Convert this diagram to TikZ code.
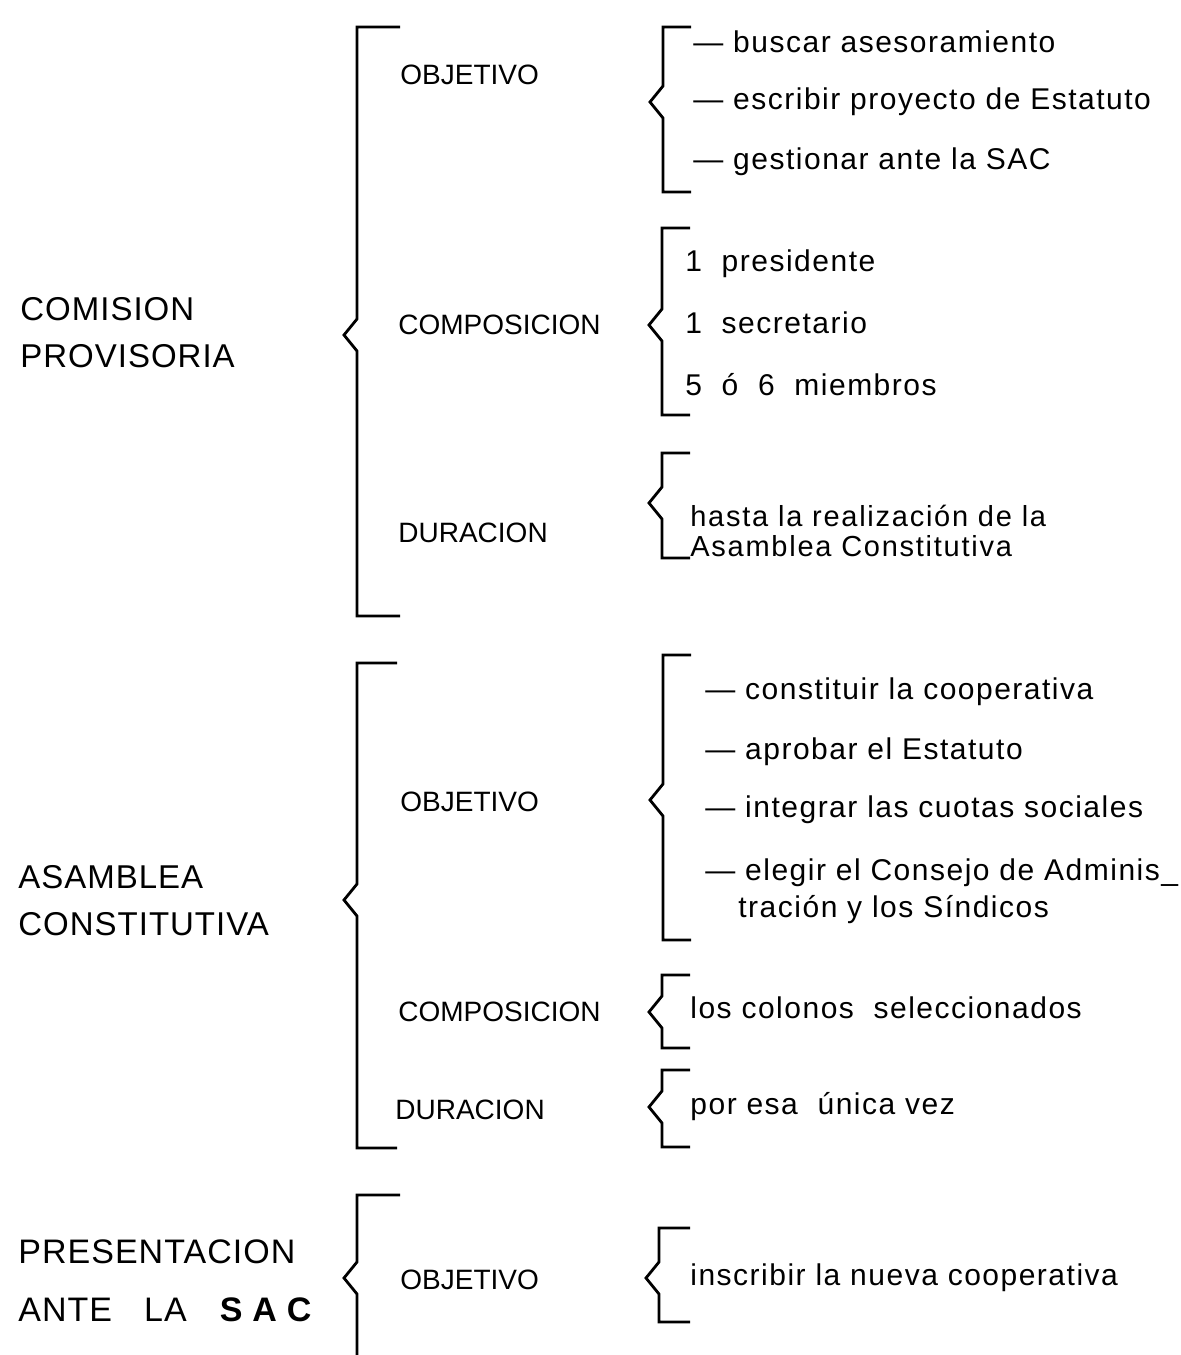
\documentclass[tikz,border=0pt]{standalone}
\usepackage{fontspec}
\setmainfont{Liberation Sans}
\usetikzlibrary{positioning}

\begin{document}
\begin{tikzpicture}[x=0.5pt,y=-0.5pt,
  head/.style={anchor=west,align=left,inner sep=0pt,font=\fontsize{16.5}{23.5}\selectfont\addfontfeature{LetterSpace=3}},
  key/.style={anchor=west,inner sep=0pt,font=\fontsize{14}{16}\selectfont},
  item/.style={anchor=west,inner sep=0pt,font=\fontsize{15}{11}\selectfont\addfontfeature{LetterSpace=5}},
  curl/.style={line width=1.4pt,line join=miter}]
\useasboundingbox (0,0) rectangle (1180,1355);
% bracket: x, top, notch, bottom, tick
\def\curly#1#2#3#4#5{\draw[curl] (#1+#5,#2) -- (#1,#2) -- (#1,#3-16) -- (#1-13,#3) -- (#1,#3+16) -- (#1,#4) -- (#1+#5,#4);}

% COMISION PROVISORIA
\node[head] (comision) at (20,333) {COMISION\\PROVISORIA};
\curly{357}{27}{335}{616}{43}
\node[key] (obj1) at (400,75) {OBJETIVO};
\node[key] (comp1) at (398,325) {COMPOSICION};
\node[key] (dur1) at (398,533) {DURACION};
\curly{663}{27}{102}{192}{28}
\foreach \i/\y/\t in {1/42/buscar asesoramiento,2/102/escribir proyecto de Estatuto,3/162/gestionar ante la SAC}
  \node[item] (obja\i) at (693,\y) {—\ \t};
\curly{662}{228}{325}{415}{28}
\foreach \i/\y/\t in {1/264/1\ \ presidente,2/323/1\ \ secretario,3/385/5\ \ ó\ \ 6\ \ miembros}
  \node[item] (compa\i) at (685,\y) {\t};
\curly{662}{453}{503}{558}{28}
\node[item,font=\fontsize{14.5}{11}\selectfont\addfontfeature{LetterSpace=6}] (dura1) at (690,516) {hasta la realización de la};
\node[item,font=\fontsize{14.5}{11}\selectfont\addfontfeature{LetterSpace=6}] (dura2) at (690,546) {Asamblea Constitutiva};

% ASAMBLEA CONSTITUTIVA
\node[head] (asamblea) at (18,901) {ASAMBLEA\\CONSTITUTIVA};
\curly{357}{663}{900}{1148}{40}
\node[key] (obj2) at (400,802) {OBJETIVO};
\node[key] (comp2) at (398,1012) {COMPOSICION};
\node[key] (dur2) at (395,1110) {DURACION};
\curly{663}{655}{800}{940}{28}
\foreach \i/\y/\t in {1/692/constituir la cooperativa,2/752/aprobar el Estatuto,3/810/integrar las cuotas sociales,4/873/elegir el Consejo de Adminis\_}
  \node[item] (objb\i) at (705,\y) {—\ \t};
\node[item] (objb5) at (738,910) {tración y los Síndicos};
\curly{662}{975}{1012}{1048}{28}
\node[item] (compb) at (690,1008) {los colonos\ \ seleccionados};
\curly{662}{1070}{1107}{1147}{28}
\node[item] (durb) at (690,1107) {por esa\ \ única vez};

% PRESENTACION ANTE LA SAC
\node[head,font=\fontsize{17}{29}\selectfont\addfontfeature{LetterSpace=3}] (presenta) at (18,1281)
  {PRESENTACION\\ANTE\hspace{16pt}LA\hspace{16pt}\textbf{S\hspace{5pt}A\hspace{5pt}C}};
\draw[curl] (400,1195) -- (357,1195) -- (357,1262) -- (344,1278) -- (357,1294) -- (357,1360);
\node[key] (obj3) at (400,1280) {OBJETIVO};
\curly{659}{1228}{1278}{1322}{31}
\node[item] (objc) at (690,1278) {inscribir la nueva cooperativa};
\end{tikzpicture}
\end{document}
